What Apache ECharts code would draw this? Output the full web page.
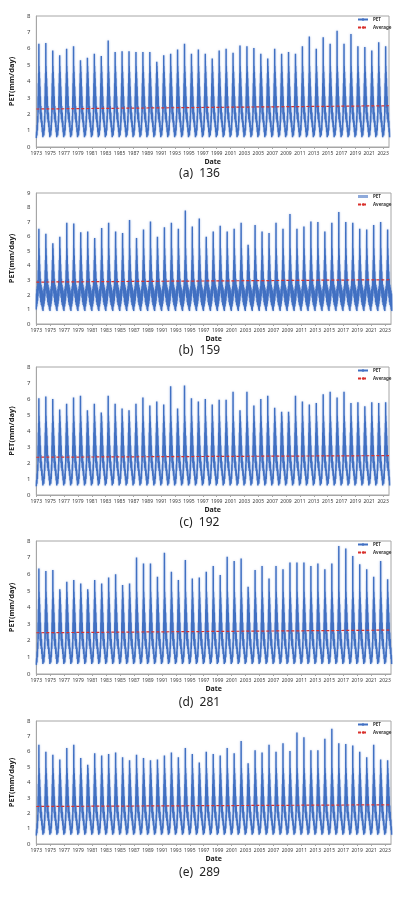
<!DOCTYPE html>
<html>
<head>
<meta charset="utf-8">
<title>PET</title>
<script src="https://cdn.jsdelivr.net/npm/echarts@6/dist/echarts.min.js"></script>
<style>
  html, body { margin: 0; padding: 0; background: #fff; }
  #chart { width: 399px; height: 923px; }
</style>
</head>
<body>
<div id="chart"></div>
<script>
// x axis tick labels, every 2 years
const tickYears = ['1973', '1975', '1977', '1979', '1981', '1983', '1985', '1987', '1989', '1991',
  '1993', '1995', '1997', '1999', '2001', '2003', '2005', '2007', '2009', '2011',
  '2013', '2015', '2017', '2019', '2021', '2023'];

// yearly summer peak PET (mm/day), 1973..2023
const pet136 = [6.3, 6.35, 5.9, 5.6, 6.0, 6.15, 5.3, 5.45, 5.7, 5.55,
  6.5, 5.8, 5.85, 5.85, 5.8, 5.8, 5.8, 5.2, 5.6, 5.7,
  5.95, 6.3, 5.7, 5.95, 5.7, 5.4, 5.9, 6.0, 5.75, 6.2,
  6.15, 6.05, 5.7, 5.4, 6.0, 5.7, 5.8, 5.7, 6.15, 6.75,
  6.0, 6.7, 6.3, 7.1, 6.3, 6.9, 6.15, 6.1, 5.9, 6.4, 6.15];
const pet159 = [6.55, 6.2, 5.55, 6.0, 6.95, 6.9, 6.3, 6.35, 5.9, 6.6,
  6.95, 6.35, 6.25, 7.15, 5.9, 6.5, 7.05, 6.0, 6.65, 6.95,
  6.55, 7.8, 6.7, 7.25, 6.0, 6.35, 6.75, 6.35, 6.55, 6.95,
  5.45, 6.8, 6.35, 6.25, 6.95, 6.55, 7.55, 6.55, 6.7, 7.05,
  7.0, 6.35, 6.95, 7.7, 7.0, 6.95, 6.55, 6.5, 6.8, 7.0, 6.5];
const pet192 = [6.05, 6.15, 6.0, 5.35, 5.7, 6.1, 6.2, 5.3, 5.7, 5.15,
  6.2, 5.7, 5.4, 5.3, 5.7, 6.1, 5.6, 5.85, 5.65, 6.8,
  5.4, 6.85, 6.05, 5.85, 6.0, 5.65, 5.95, 5.95, 6.45, 5.3,
  6.45, 5.6, 6.0, 6.2, 5.45, 5.2, 5.2, 6.2, 5.85, 5.65,
  5.75, 6.3, 6.45, 6.1, 6.45, 5.75, 5.8, 5.55, 5.8, 5.75, 5.8];
const pet281 = [6.35, 6.2, 6.25, 5.1, 5.55, 5.65, 5.45, 5.1, 5.65, 5.45,
  5.8, 6.0, 5.35, 5.45, 7.0, 6.65, 6.65, 5.85, 7.3, 6.15,
  5.65, 6.85, 5.75, 5.8, 6.15, 6.5, 5.95, 7.05, 6.8, 6.95,
  5.25, 6.25, 6.5, 5.75, 6.5, 6.3, 6.7, 6.7, 6.7, 6.5,
  6.65, 6.3, 6.65, 7.7, 7.55, 7.1, 6.6, 6.3, 5.85, 6.8, 5.7];
const pet289 = [6.45, 6.0, 5.8, 5.5, 6.25, 6.45, 5.6, 5.15, 5.9, 5.75,
  5.85, 5.95, 5.65, 5.45, 5.8, 5.6, 5.45, 5.5, 5.75, 5.95,
  5.65, 6.25, 5.85, 5.3, 6.0, 5.85, 5.75, 6.25, 5.9, 6.7,
  5.25, 6.1, 5.95, 6.45, 6.0, 6.55, 6.05, 7.25, 6.95, 6.1,
  6.1, 6.85, 7.5, 6.55, 6.5, 6.4, 6.0, 5.65, 6.45, 5.5, 5.45];

// trend line (Average), value at start and end
const avg136 = [2.32, 2.52];
const avg159 = [2.88, 3.04];
const avg192 = [2.36, 2.46];
const avg281 = [2.48, 2.64];
const avg289 = [2.44, 2.55];

// within-year course (fraction of year, value); null = that year's peak
const shapePos = [0.00, 0.04, 0.08, 0.12, 0.16, 0.19, 0.22, 0.25, 0.27, 0.29,
  0.31, 0.33, 0.35, 0.365, 0.38, 0.40, 0.42, 0.44, 0.46, 0.48,
  0.50, 0.53, 0.56, 0.59, 0.62, 0.66, 0.70, 0.74, 0.78, 0.82,
  0.86, 0.90, 0.94];
const shapeVal = [0.55, 0.95, 0.7, 1.35, 1.0, 1.9, 1.5, 3.1, 2.1, 3.9,
  2.6, 4.5, 3.2, null, 3.6, 4.95, 3.0, 4.6, 2.6, 4.2,
  2.4, 3.7, 2.0, 3.1, 1.7, 2.5, 1.5, 2.1, 1.2, 1.6,
  0.9, 1.15, 0.6];
// station 159 has a higher, noisier winter
const shapePosB = [0.00, 0.03, 0.06, 0.09, 0.12, 0.15, 0.18, 0.21, 0.24, 0.27,
  0.29, 0.31, 0.33, 0.35, 0.365, 0.38, 0.40, 0.42, 0.44, 0.46,
  0.48, 0.50, 0.53, 0.56, 0.60, 0.64, 0.68, 0.72, 0.76, 0.80,
  0.84, 0.88, 0.92, 0.96];
const shapeValB = [1.0, 2.1, 1.2, 2.4, 1.4, 2.6, 1.6, 3.0, 1.9, 3.7,
  2.3, 4.4, 2.8, 5.0, null, 3.4, 5.2, 2.8, 4.7, 2.4,
  4.1, 2.1, 3.6, 1.8, 3.1, 1.5, 2.7, 1.3, 2.5, 1.2,
  2.3, 1.0, 2.1, 0.9];

const X_MAX = 50.85;
const FONT = 'Noto Sans';

const panels = [
  { cap: '(a)  136', peaks: pet136, avg: avg136, yMax: 8, pos: shapePos, val: shapeVal,
    grid: { left: 31, top: 16, width: 358, height: 131 }, capTop: 168, nameGap: 15 },
  { cap: '(b)  159', peaks: pet159, avg: avg159, yMax: 9, pos: shapePosB, val: shapeValB,
    grid: { left: 29, top: 193, width: 362, height: 131 }, capTop: 345, nameGap: 15, rectIcon: true },
  { cap: '(c)  192', peaks: pet192, avg: avg192, yMax: 8, pos: shapePos, val: shapeVal,
    grid: { left: 29, top: 367, width: 360, height: 128 }, capTop: 517, nameGap: 15 },
  { cap: '(d)  281', peaks: pet281, avg: avg281, yMax: 8, pos: shapePos, val: shapeVal,
    grid: { left: 26, top: 541, width: 365, height: 133 }, capTop: 697, nameGap: 14 },
  { cap: '(e)  289', peaks: pet289, avg: avg289, yMax: 8, pos: shapePos, val: shapeVal,
    grid: { left: 25, top: 721, width: 366, height: 123 }, capTop: 867, nameGap: 14 }
];

function buildLine(peaks, pos, val) {
  const out = [];
  peaks.forEach((p, i) => {
    pos.forEach((t, j) => {
      out.push([i + t, val[j] === null ? p : val[j]]);
    });
  });
  return out;
}

const option = {
  backgroundColor: '#fff',
  animation: false,
  textStyle: { fontFamily: FONT },
  title: [], grid: [], xAxis: [], yAxis: [], legend: [], series: []
};

panels.forEach((pn, k) => {
  option.title.push({
    text: pn.cap, left: 'center', top: pn.capTop, padding: 0,
    textStyle: { fontSize: 12, fontWeight: 'normal', color: '#222', fontFamily: FONT }
  });
  option.grid.push(Object.assign({
    show: true, borderColor: '#a6a6a6', borderWidth: 1, backgroundColor: 'transparent'
  }, pn.grid));
  option.xAxis.push({
    type: 'value', gridIndex: k, min: 0, max: X_MAX, interval: 2,
    name: 'Date', nameLocation: 'middle', nameGap: 11,
    nameTextStyle: { fontSize: 7, fontWeight: 'bold', color: '#222' },
    axisLine: { lineStyle: { color: '#a6a6a6' } },
    axisTick: { show: true, length: 2, lineStyle: { color: '#a6a6a6' } },
    axisLabel: {
      fontSize: 5, color: '#404040', margin: 4, showMaxLabel: false,
      formatter: v => tickYears[v / 2] || ''
    },
    splitLine: { show: false }
  });
  option.yAxis.push({
    type: 'value', gridIndex: k, min: 0, max: pn.yMax, interval: 1,
    name: 'PET(mm/day)', nameLocation: 'middle', nameGap: pn.nameGap, nameRotate: 90,
    nameTextStyle: { fontSize: 7.5, fontWeight: 'bold', color: '#222' },
    axisLine: { show: true, lineStyle: { color: '#a6a6a6' } },
    axisTick: { show: false },
    axisLabel: { fontSize: 6, color: '#404040', margin: 6 },
    splitLine: { show: false }
  });
  option.legend.push({
    orient: 'vertical', left: 357, top: pn.grid.top + 1, padding: 0,
    itemGap: 3, itemWidth: 10, itemHeight: 3,
    textStyle: { fontSize: 4.5, fontWeight: 'bold', color: '#333' },
    data: [
      pn.rectIcon ? { name: 'PET', icon: 'rect', itemStyle: { color: '#8eaadb' } } : 'PET',
      'Average'
    ]
  });
  option.series.push({
    name: 'PET', type: 'line', xAxisIndex: k, yAxisIndex: k,
    data: buildLine(pn.peaks, pn.pos, pn.val),
    symbol: 'none', showSymbol: false, clip: true,
    lineStyle: {
      color: '#4170c2', width: 1.4,
      shadowColor: 'rgba(120, 155, 220, 0.8)', shadowBlur: 2
    },
    itemStyle: { color: '#4472c4' },
    z: 2
  });
  option.series.push({
    name: 'Average', type: 'line', xAxisIndex: k, yAxisIndex: k,
    data: [[0, pn.avg[0]], [X_MAX, pn.avg[1]]],
    symbol: 'none', showSymbol: false,
    lineStyle: { color: '#d9302c', width: 1.2, type: [3, 2] },
    itemStyle: { color: '#d9302c' },
    z: 3
  });
});

const chart = echarts.init(document.getElementById('chart'));
chart.setOption(option);
</script>
</body>
</html>
